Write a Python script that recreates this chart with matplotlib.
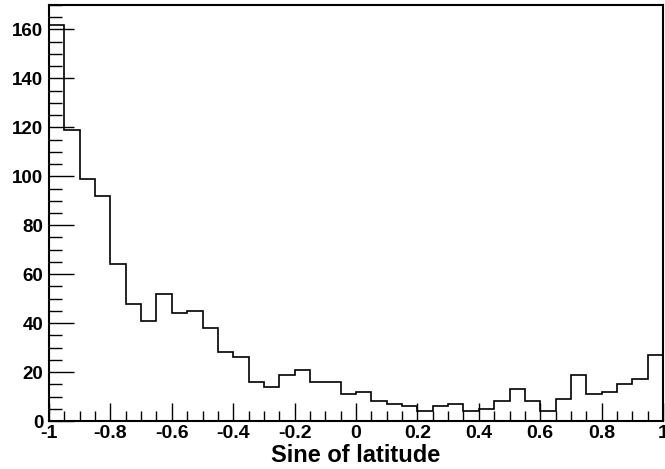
import numpy as np
import matplotlib
matplotlib.use("Agg")
import matplotlib.pyplot as plt
from matplotlib.ticker import MultipleLocator, FuncFormatter

# 40 bins of width 0.05 from -1 to 1
bin_edges = np.linspace(-1, 1, 41)
counts = [162, 119, 99, 92, 64, 48, 41, 52, 44, 45,
          38, 28, 26, 16, 14, 19, 21, 16, 16, 11,
          12, 8, 7, 6, 4, 6, 7, 4, 5, 8,
          13, 8, 4, 9, 19, 11, 12, 15, 17, 27]
x_label = "Sine of latitude"

plt.rcParams['font.family'] = ['Liberation Sans', 'DejaVu Sans']

fig = plt.figure(figsize=(6.65, 4.69), dpi=100)
ax = fig.add_axes([49 / 665, 48 / 469, 614 / 665, 416 / 469])

ax.stairs(counts, bin_edges, color='black', linewidth=1.2)

ax.set_xlim(-1, 1)
ax.set_ylim(0, 170)

ax.xaxis.set_major_locator(MultipleLocator(0.2))
ax.xaxis.set_minor_locator(MultipleLocator(0.05))
ax.yaxis.set_major_locator(MultipleLocator(20))
ax.yaxis.set_minor_locator(MultipleLocator(5))

def fmt(v, pos):
    s = f"{v:.1f}".rstrip('0').rstrip('.')
    return "0" if s in ("-0", "0") else s

ax.xaxis.set_major_formatter(FuncFormatter(fmt))

ax.tick_params(axis='both', which='both', direction='in', top=False, right=False,
               labelsize=13.5, width=1)
ax.tick_params(axis='y', which='major', length=18, pad=4)
ax.tick_params(axis='y', which='minor', length=9)
ax.tick_params(axis='x', which='major', length=13, pad=3)
ax.tick_params(axis='x', which='minor', length=7)
ax.tick_params(axis='x', which='major', labelsize=14)
for lab in ax.get_xticklabels() + ax.get_yticklabels():
    lab.set_fontweight('bold')

for sp in ax.spines.values():
    sp.set_linewidth(1.5)

ax.set_xlabel(x_label, fontsize=17, fontweight='bold', labelpad=1)

fig.savefig('out.png', dpi=100)
